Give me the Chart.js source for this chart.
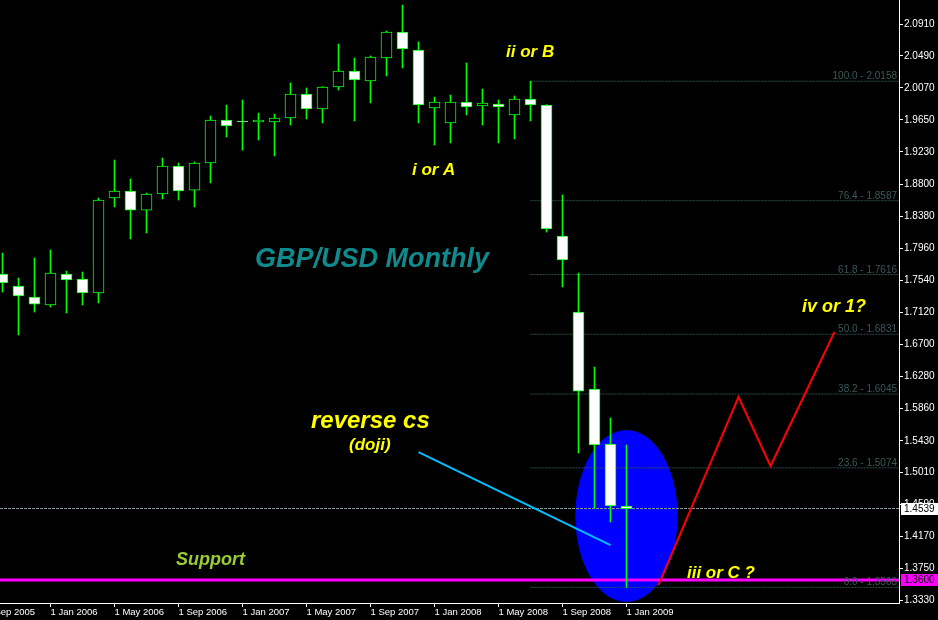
<!DOCTYPE html>
<html>
<head>
<meta charset="utf-8">
<script src="https://cdn.jsdelivr.net/npm/chart.js@4.4.1/dist/chart.umd.min.js"></script>
<style>
  html, body { margin: 0; padding: 0; background: #000; overflow: hidden; }
  canvas { display: block; }
</style>
</head>
<body>
<canvas id="chart" width="938" height="620"></canvas>
<script>
// --- Data ---
const months = [
  'Oct 2005', 'Nov 2005', 'Dec 2005', 'Jan 2006', 'Feb 2006', 'Mar 2006', 'Apr 2006', 'May 2006',
  'Jun 2006', 'Jul 2006', 'Aug 2006', 'Sep 2006', 'Oct 2006', 'Nov 2006', 'Dec 2006', 'Jan 2007',
  'Feb 2007', 'Mar 2007', 'Apr 2007', 'May 2007', 'Jun 2007', 'Jul 2007', 'Aug 2007', 'Sep 2007',
  'Oct 2007', 'Nov 2007', 'Dec 2007', 'Jan 2008', 'Feb 2008', 'Mar 2008', 'Apr 2008', 'May 2008',
  'Jun 2008', 'Jul 2008', 'Aug 2008', 'Sep 2008', 'Oct 2008', 'Nov 2008', 'Dec 2008', 'Jan 2009'
];
const opens = [
  1.7623, 1.7465, 1.7320, 1.7215, 1.7623, 1.7557, 1.7373, 1.8622,
  1.8714, 1.8464, 1.8675, 1.9043, 1.8727, 1.9083, 1.9648, 1.9635,
  1.9622, 1.9622, 1.9674, 1.9990, 1.9793, 2.0082, 2.0292, 2.0161,
  2.0463, 2.0805, 2.0568, 1.9806, 1.9609, 1.9885, 1.9832, 1.9858,
  1.9714, 1.9924, 1.9845, 1.8123, 1.7123, 1.6111, 1.5387, 1.4572
];
const highs = [
  1.7899, 1.7570, 1.7833, 1.7938, 1.7662, 1.7649, 1.8622, 1.9122,
  1.8872, 1.8688, 1.9148, 1.9083, 1.9096, 1.9701, 1.9845, 1.9911,
  1.9740, 1.9727, 2.0135, 2.0069, 2.0088, 2.0647, 2.0463, 2.0490,
  2.0818, 2.1160, 2.0674, 1.9950, 1.9977, 2.0398, 2.0056, 1.9911,
  1.9964, 2.0158, 1.9850, 1.8662, 1.7636, 1.6400, 1.5729, 1.5374
];
const lows = [
  1.7386, 1.6821, 1.7123, 1.7189, 1.7110, 1.7215, 1.7242, 1.8504,
  1.8083, 1.8162, 1.8609, 1.8596, 1.8504, 1.8820, 1.9424, 1.9253,
  1.9385, 1.9175, 1.9582, 1.9661, 1.9609, 2.0042, 1.9635, 1.9872,
  2.0227, 2.0332, 1.9609, 1.9319, 1.9346, 1.9714, 1.9582, 1.9346,
  1.9398, 1.9635, 1.8175, 1.7452, 1.5269, 1.4546, 1.4362, 1.3503
];
const closes = [
  1.7505, 1.7334, 1.7228, 1.7636, 1.7544, 1.7373, 1.8596, 1.8714,
  1.8464, 1.8675, 1.9043, 1.8714, 1.9083, 1.9648, 1.9569, 1.9622,
  1.9648, 1.9674, 1.9990, 1.9793, 2.0082, 2.0292, 2.0174, 2.0476,
  2.0805, 2.0582, 1.9845, 1.9885, 1.9885, 1.9819, 1.9872, 1.9819,
  1.9924, 1.9845, 1.8215, 1.7807, 1.6084, 1.5374, 1.4572, 1.4539
];

// axis ticks
const yTicks = [2.0910, 2.0490, 2.0070, 1.9650, 1.9230, 1.8800, 1.8380, 1.7960, 1.7540, 1.7120,
  1.6700, 1.6280, 1.5860, 1.5430, 1.5010, 1.4590, 1.4170, 1.3750, 1.3330];
const xTickPos = [-1, 3, 7, 11, 15, 19, 23, 27, 31, 35, 39];
const xTickLabels = ['1 Sep 2005', '1 Jan 2006', '1 May 2006', '1 Sep 2006', '1 Jan 2007', '1 May 2007',
  '1 Sep 2007', '1 Jan 2008', '1 May 2008', '1 Sep 2008', '1 Jan 2009'];

// fibonacci retracement (Jul 2008 high to Jan 2009 low)
const fibStart = 33;
const fibPct = [100.0, 76.4, 61.8, 50.0, 38.2, 23.6, 0.0];
const fibPrice = [2.0158, 1.8587, 1.7616, 1.6831, 1.6045, 1.5074, 1.3503];

// horizontal levels
const bidPrice = 1.4539;
const supportPrice = 1.3600;

// drawn lines
const pointerX = [26, 38];
const pointerY = [1.5282, 1.4059];
const pathX = [41, 46, 48, 52];
const pathY = [1.3533, 1.6005, 1.5098, 1.6860];

// highlight ellipse round the doji
const highlight = { month: 39, price: 1.4441, spanMonths: 3.2, spanPrice: 0.1131 };

// text notes
const noteText = ['GBP/USD Monthly', 'ii or B', 'i or A', 'iv or 1?', 'iii or C ?', 'reverse cs', '(doji)', 'Support'];
const noteX = [15.78, 31.47, 25.59, 49.97, 42.78, 19.28, 21.66, 10.84];
const noteY = [1.7715, 2.0476, 1.8925, 1.7123, 1.3620, 1.5598, 1.5308, 1.3796];

// --- Scale window ---
const X_MIN = -0.15625;
const X_MAX = 56.03125;
const Y_MIN = 1.3297;
const Y_MAX = 2.1226;

const GREEN = '#00ff00';
const FONT = '"Liberation Sans", Arial, sans-serif';

// --- Datasets ---
const wickData = months.map((m, i) => ({ x: i, y: [lows[i], highs[i]] }));
const bodyData = months.map((m, i) => ({ x: i, y: [opens[i], closes[i]] }));
const bodyFill = months.map((m, i) => closes[i] < opens[i] ? '#ffffff' : '#000000');

const levelLine = (y0, x0, color, width, dash, order) => ({
  type: 'line',
  data: [{ x: x0, y: y0 }, { x: X_MAX, y: y0 }],
  borderColor: color,
  borderWidth: width,
  borderDash: dash,
  pointRadius: 0,
  order: order
});

const datasets = [];
fibPrice.forEach(p => datasets.push(levelLine(p, fibStart, '#2f4f4f', 1, [2, 1], 10)));
datasets.push(levelLine(bidPrice, X_MIN, '#8a9898', 1, [3, 1], 9));
datasets.push(levelLine(supportPrice, X_MIN, '#ff00ff', 3, [], 8));
datasets.push({
  type: 'bar',
  data: wickData,
  backgroundColor: GREEN,
  barThickness: 1,
  grouped: false,
  order: 5
});
datasets.push({
  type: 'bar',
  data: bodyData,
  backgroundColor: bodyFill,
  borderColor: GREEN,
  borderWidth: 1,
  borderSkipped: false,
  barThickness: 11,
  grouped: false,
  order: 4
});
datasets.push({
  type: 'line',
  data: pointerX.map((x, i) => ({ x: x, y: pointerY[i] })),
  borderColor: '#00bfff',
  borderWidth: 2,
  pointRadius: 0,
  order: 1
});
datasets.push({
  type: 'line',
  data: pathX.map((x, i) => ({ x: x, y: pathY[i] })),
  borderColor: '#ff0000',
  borderWidth: 2,
  pointRadius: 0,
  order: 0
});

// --- Plugins ---
const backdrop = {
  id: 'backdrop',
  beforeDraw(chart) {
    const ctx = chart.ctx;
    ctx.save();
    ctx.fillStyle = '#000';
    ctx.fillRect(0, 0, chart.width, chart.height);
    ctx.restore();
  },
  beforeDatasetsDraw(chart) {
    const { ctx, chartArea: a, scales: { x, y } } = chart;
    const cx = x.getPixelForValue(highlight.month);
    const cy = y.getPixelForValue(highlight.price);
    const rx = Math.abs(x.getPixelForValue(highlight.month + highlight.spanMonths) - cx);
    const ry = Math.abs(y.getPixelForValue(highlight.price + highlight.spanPrice) - cy);
    ctx.save();
    ctx.beginPath();
    ctx.rect(a.left, a.top, a.width, a.height);
    ctx.clip();
    ctx.fillStyle = '#0000ff';
    ctx.beginPath();
    ctx.ellipse(cx, cy, rx, ry, 0, 0, Math.PI * 2);
    ctx.fill();
    ctx.restore();
  }
};

const noteStyle = [
  { size: 27, color: '#118a8e' },
  { size: 17, color: '#ffff00' },
  { size: 17, color: '#ffff00' },
  { size: 18, color: '#ffff00' },
  { size: 17, color: '#ffff00' },
  { size: 24, color: '#ffff00' },
  { size: 17, color: '#ffff00' },
  { size: 18, color: '#9acd32' }
];

const notes = {
  id: 'notes',
  afterDatasetsDraw(chart) {
    const { ctx, chartArea: a, scales: { x, y } } = chart;
    ctx.save();
    // fib labels
    ctx.font = '10px ' + FONT;
    ctx.fillStyle = '#3b5959';
    ctx.textAlign = 'right';
    ctx.textBaseline = 'alphabetic';
    fibPct.forEach((pct, i) => {
      ctx.fillText(pct.toFixed(1) + ' - ' + fibPrice[i].toFixed(4), a.right - 2, y.getPixelForValue(fibPrice[i]) - 2);
    });
    // notes
    ctx.textAlign = 'left';
    noteText.forEach((t, i) => {
      const s = noteStyle[i];
      ctx.font = 'italic bold ' + s.size + 'px ' + FONT;
      ctx.fillStyle = s.color;
      ctx.fillText(t, x.getPixelForValue(noteX[i]), y.getPixelForValue(noteY[i]));
    });
    ctx.restore();
  },
  afterDraw(chart) {
    const { ctx, chartArea: a, scales: { y } } = chart;
    const tags = [[bidPrice, '#ffffff'], [supportPrice, '#ff00ff']];
    ctx.save();
    ctx.font = '10px ' + FONT;
    ctx.textAlign = 'left';
    ctx.textBaseline = 'middle';
    tags.forEach(([p, bg]) => {
      const py = Math.round(y.getPixelForValue(p));
      ctx.fillStyle = bg;
      ctx.fillRect(a.right + 2, py - 6, chart.width - a.right - 2, 12);
      ctx.fillStyle = '#000';
      ctx.fillText(p.toFixed(4), a.right + 5, py + 0.5);
    });
    ctx.restore();
  }
};

// --- Chart ---
new Chart(document.getElementById('chart'), {
  type: 'bar',
  data: { datasets: datasets },
  options: {
    responsive: false,
    animation: false,
    events: [],
    layout: { padding: 0 },
    plugins: {
      legend: { display: false },
      tooltip: { enabled: false }
    },
    scales: {
      x: {
        type: 'linear',
        min: X_MIN,
        max: X_MAX,
        offset: false,
        bounds: 'data',
        grid: { offset: false, drawOnChartArea: false, drawTicks: true, tickLength: 4, color: '#ffffff' },
        border: { display: true, color: '#ffffff', width: 1 },
        afterBuildTicks: scale => { scale.ticks = xTickPos.map(v => ({ value: v })); },
        afterFit: scale => { scale.height = 17; scale.paddingLeft = 0; scale.paddingRight = 0; },
        ticks: {
          autoSkip: false,
          maxRotation: 0,
          minRotation: 0,
          align: 'start',
          padding: 0,
          color: '#ffffff',
          font: { family: FONT, size: 9.5 },
          callback: (v, i) => xTickLabels[i]
        }
      },
      y: {
        type: 'linear',
        position: 'right',
        min: Y_MIN,
        max: Y_MAX,
        bounds: 'data',
        grid: { drawOnChartArea: false, drawTicks: true, tickLength: 4, color: '#ffffff' },
        border: { display: true, color: '#ffffff', width: 1 },
        afterBuildTicks: scale => { scale.ticks = yTicks.map(v => ({ value: v })); },
        afterFit: scale => { scale.width = 39; scale.paddingTop = 0; scale.paddingBottom = 0; },
        ticks: {
          autoSkip: false,
          padding: 1,
          color: '#ffffff',
          font: { family: FONT, size: 10 },
          callback: v => v.toFixed(4)
        }
      }
    }
  },
  plugins: [backdrop, notes]
});
</script>
</body>
</html>
